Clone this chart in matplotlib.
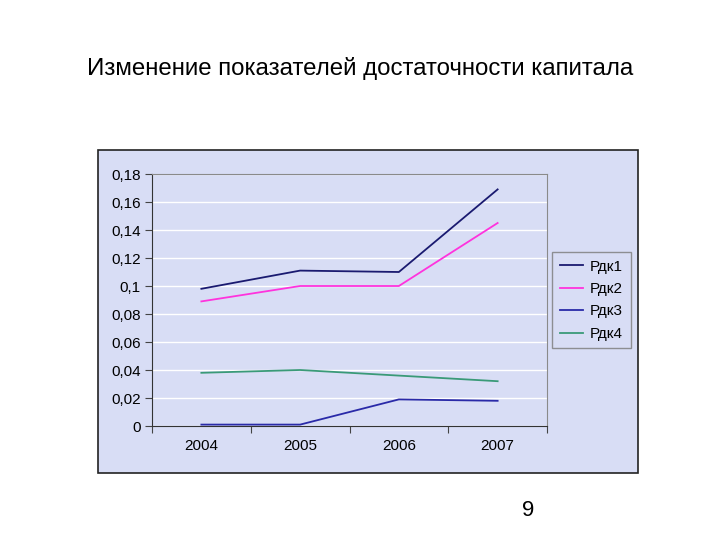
import matplotlib.pyplot as plt
from matplotlib.patches import Rectangle
from matplotlib.ticker import FuncFormatter

plt.rcParams['font.family'] = ['Liberation Sans', 'DejaVu Sans']

years = ['2004', '2005', '2006', '2007']
rdk1 = [0.098, 0.111, 0.110, 0.169]
rdk2 = [0.089, 0.100, 0.100, 0.145]
rdk3 = [0.001, 0.001, 0.019, 0.018]
rdk4 = [0.038, 0.040, 0.036, 0.032]
names = ['Рдк1', 'Рдк2', 'Рдк3', 'Рдк4']
colors = ['#1a1a70', '#ff33dd', '#2a2aa8', '#3a9a78']

bg = '#d8ddf5'

fig = plt.figure(figsize=(7.2, 5.4), dpi=100)
fig.patch.set_facecolor('white')

# chart area frame
fig.patches.append(Rectangle((98/720, 67/540), 540/720, 323/540,
                             transform=fig.transFigure, facecolor=bg,
                             edgecolor='#222222', lw=1.2, zorder=-1))

fig.text(0.5, 1 - 68/540, 'Изменение показателей достаточности капитала',
         ha='center', va='center', fontsize=17.3)
fig.text(528/720, 1 - 510/540, '9', ha='center', va='center', fontsize=16)

ax = fig.add_axes([152/720, 114/540, 395/720, 252/540])
ax.set_zorder(1)
ax.set_facecolor(bg)
x = range(len(years))
for ys, c, n in zip([rdk1, rdk2, rdk3, rdk4], colors, names):
    ax.plot(x, ys, color=c, lw=1.3, label=n)

ax.set_xlim(-0.5, 3.5)
ax.set_ylim(0, 0.18)
ax.set_yticks([i * 0.02 for i in range(10)])
ax.yaxis.set_major_formatter(FuncFormatter(lambda v, p: ('%g' % round(v, 2)).replace('.', ',')))
ax.set_xticks([-0.5, 0.5, 1.5, 2.5, 3.5])
ax.set_xticklabels([])
ax.set_xticks(list(x), minor=True)
ax.set_xticklabels(years, minor=True)
ax.tick_params(axis='x', which='minor', length=0, pad=9, labelsize=11)
ax.tick_params(axis='x', which='major', length=5, color='#444444')
ax.tick_params(axis='y', length=5, color='#444444', labelsize=11, pad=3)
ax.yaxis.grid(True, color='white', lw=1)
ax.set_axisbelow(True)
for s in ['top', 'right']:
    ax.spines[s].set_color('#8a8a8a')
for s in ['left', 'bottom']:
    ax.spines[s].set_color('#333333')

leg = ax.legend(loc='upper left', bbox_to_anchor=(552/720, 1 - 252/540),
                bbox_transform=fig.transFigure, frameon=True, fancybox=False,
                fontsize=11, handlelength=1.5, handletextpad=0.5,
                borderpad=0.5, labelspacing=0.55, borderaxespad=0)
leg.get_frame().set_facecolor(bg)
leg.get_frame().set_edgecolor('#7a7a7a')
leg.get_frame().set_linewidth(1.0)

fig.savefig('out.png', dpi=100)
